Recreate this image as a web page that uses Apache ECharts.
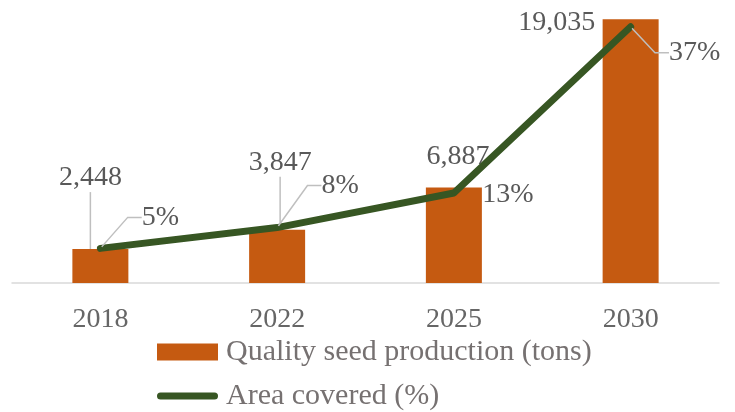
<!DOCTYPE html>
<html>
<head>
<meta charset="utf-8">
<script src="https://cdn.jsdelivr.net/npm/echarts@6/dist/echarts.min.js"></script>
<style>
html,body{margin:0;padding:0;background:#fff;}
#chart{width:735px;height:412px;}
</style>
</head>
<body>
<div id="chart"></div>
<script>
// ---- data ----
const categories = ['2018', '2022', '2025', '2030'];
const seedProduction = [2448, 3847, 6887, 19035];   // tons
const areaCovered = [5, 8, 13, 37];                  // %
const seriesNames = ['Quality seed production (tons)', 'Area covered (%)'];

// ---- presentation (label nudges relative to each mark's anchor) ----
const barLabelNudge = [[-10, -71], [3, -67], [4, -31], [-74, 3]];
const barLabelLeader = [true, true, false, false];
const lineLabelNudge = [[60, -31], [63, -42], [54, 2], [64, 26]];
const lineLabelLeader = [true, true, false, true];

const FONT = '"Liberation Serif", "Times New Roman", serif';
const LABEL_COLOR = '#595959';
const LEADER = { color: '#bfbfbf', width: 1.5 };
const GREEN = '#375623';
const ORANGE = '#C55A11';

const chart = echarts.init(document.getElementById('chart'), null, { renderer: 'canvas' });

chart.setOption({
  backgroundColor: '#ffffff',
  animation: false,
  textStyle: { fontFamily: FONT },
  grid: { left: 12, right: 16, top: 6, bottom: 129, containLabel: false, outerBoundsMode: 'none' },
  legend: {
    orient: 'vertical',
    left: 157,
    top: 337,
    height: 75,
    padding: 0,
    itemGap: 14,
    itemWidth: 61,
    itemHeight: 17,
    textStyle: { fontFamily: FONT, fontSize: 30, color: '#767171', lineHeight: 30, padding: [0, 0, 0, 3] },
    data: [
      { name: seriesNames[0], icon: 'rect' },
      {
        name: seriesNames[1],
        icon: 'path://M3.5,0 L57.5,0 A3.5,3.5 0 0 1 57.5,7 L3.5,7 A3.5,3.5 0 0 1 3.5,0 Z',
        itemStyle: { color: GREEN }
      }
    ]
  },
  xAxis: {
    type: 'category',
    data: categories,
    axisLine: { show: true, lineStyle: { color: '#d9d9d9', width: 1.5 } },
    axisTick: { show: false },
    axisLabel: { fontFamily: FONT, fontSize: 28, color: '#666666', margin: 23 },
    splitLine: { show: false }
  },
  yAxis: [
    { type: 'value', min: 0, max: 20000, show: false, splitLine: { show: false } },
    { type: 'value', min: 0, max: 40, show: false, splitLine: { show: false } }
  ],
  series: [
    {
      name: seriesNames[0],
      type: 'bar',
      yAxisIndex: 0,
      barWidth: 56,
      z: 2,
      itemStyle: { color: ORANGE },
      data: seedProduction.map((v, i) => ({ value: v, labelLine: { show: barLabelLeader[i] } })),
      label: {
        show: true,
        position: 'top',
        fontFamily: FONT,
        fontSize: 28,
        color: LABEL_COLOR,
        padding: [0, 4],
        formatter: p => p.value.toLocaleString('en-US')
      },
      labelLine: { show: true, length2: 0, lineStyle: LEADER },
      labelLayout: function (params) {
        const i = params.dataIndex;
        const r = params.rect;
        const lr = params.labelRect;
        const ax = r.x + r.width / 2;
        const ay = Math.min(r.y, r.y + r.height);
        return {
          dx: ax + barLabelNudge[i][0] - (lr.x + lr.width / 2),
          dy: ay + barLabelNudge[i][1] - (lr.y + lr.height / 2)
        };
      }
    },
    {
      name: seriesNames[1],
      type: 'line',
      yAxisIndex: 1,
      z: 3,
      symbol: 'circle',
      symbolSize: 4,
      showSymbol: true,
      lineStyle: { color: GREEN, width: 7, cap: 'round', join: 'round' },
      itemStyle: { color: GREEN },
      data: areaCovered.map((v, i) => ({ value: v, labelLine: { show: lineLabelLeader[i] } })),
      label: {
        show: true,
        position: 'inside',
        fontFamily: FONT,
        fontSize: 28,
        color: LABEL_COLOR,
        padding: [0, 8],
        formatter: p => p.value + '%'
      },
      labelLine: { show: true, length2: 14, minTurnAngle: 60, lineStyle: LEADER },
      labelLayout: function (params) {
        const i = params.dataIndex;
        const r = params.rect;
        const lr = params.labelRect;
        const ax = r.x + r.width / 2;
        const ay = r.y + r.height / 2;
        return {
          dx: ax + lineLabelNudge[i][0] - (lr.x + lr.width / 2),
          dy: ay + lineLabelNudge[i][1] - (lr.y + lr.height / 2)
        };
      }
    }
  ]
});
</script>
</body>
</html>
